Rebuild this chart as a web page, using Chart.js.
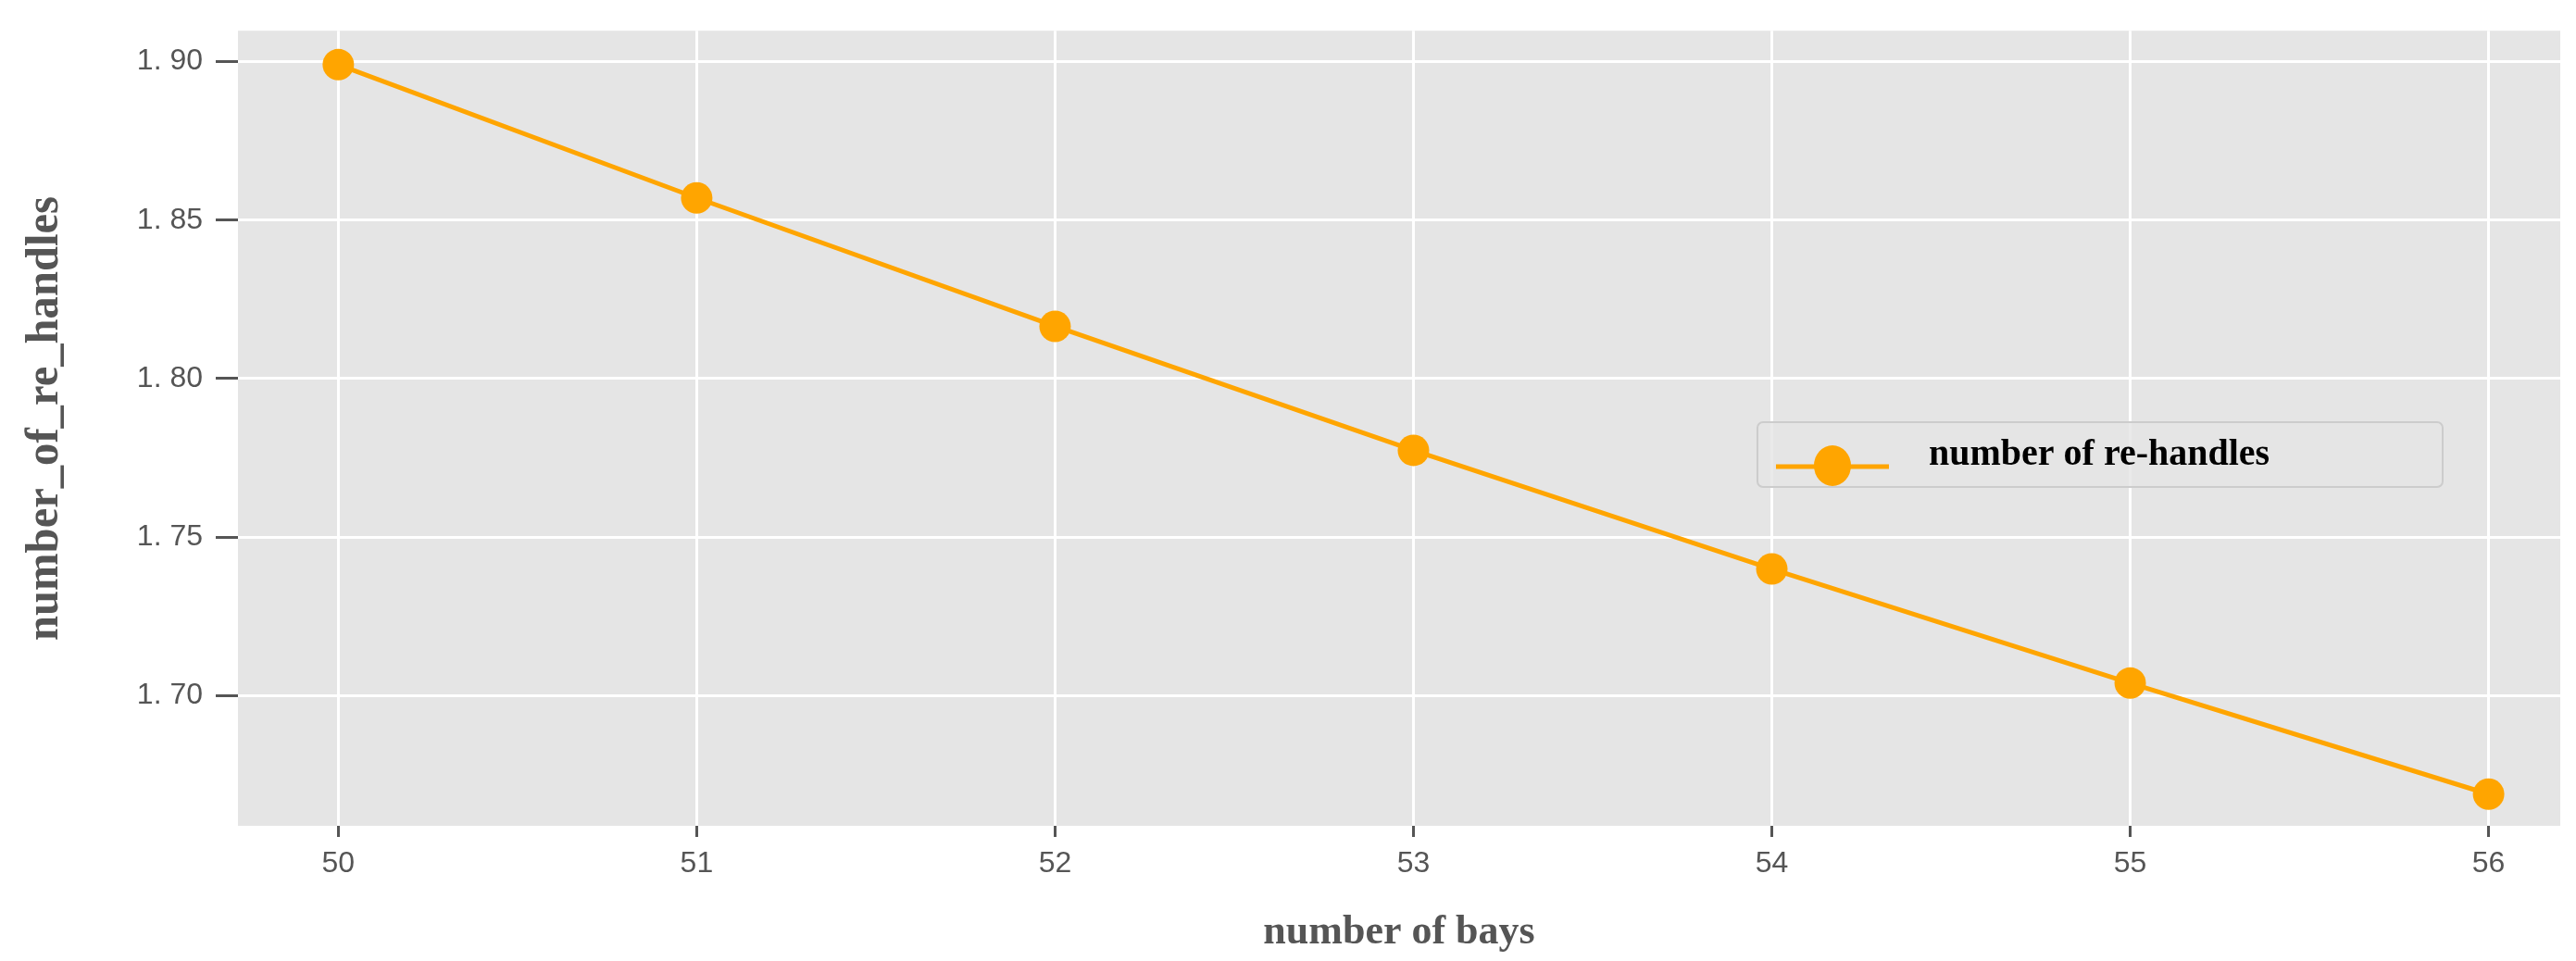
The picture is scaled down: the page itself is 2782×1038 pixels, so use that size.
<!DOCTYPE html>
<html>
<head>
<meta charset="utf-8">
<script src="https://cdn.jsdelivr.net/npm/chart.js@4.4.0/dist/chart.umd.min.js"></script>
<style>
  html, body { margin: 0; padding: 0; background: #fff; }
  #wrap { width: 2782px; height: 1038px; }
</style>
</head>
<body>
<div id="wrap"><canvas id="c"></canvas></div>
<script>
// values
let bays = [50, 51, 52, 53, 54, 55, 56];
let reHandles = [1.899, 1.857, 1.8165, 1.7774, 1.740, 1.704, 1.669];
let xTicks = [50, 51, 52, 53, 54, 55, 56];
let yTicks = [1.70, 1.75, 1.80, 1.85, 1.90];

const ORANGE = '#ffa500';

// grey panel behind the plot
const panelBg = {
    id: 'panelBg',
    beforeDraw(chart) {
        const a = chart.chartArea, ctx = chart.ctx;
        ctx.save();
        ctx.fillStyle = '#e5e5e5';
        ctx.fillRect(a.left, a.top, a.right - a.left, a.bottom - a.top);
        ctx.restore();
    }
};

// condensed y title + legend box
const extras = {
    id: 'extras',
    afterDraw(chart) {
        const ctx = chart.ctx;
        ctx.save();
        // y axis title, squeezed like the original
        ctx.translate(49, 452);
        ctx.rotate(-Math.PI / 2);
        ctx.font = 'bold 50px "Liberation Serif"';
        ctx.fillStyle = '#555555';
        ctx.textAlign = 'center';
        ctx.textBaseline = 'middle';
        const t = 'number_of_re_handles';
        const w = ctx.measureText(t).width;
        ctx.scale(480 / w, 1);
        ctx.fillText(t, 0, 0);
        ctx.restore();

        // legend
        const lx = 1898, ly = 456, lw = 740, lh = 70;
        ctx.save();
        ctx.fillStyle = 'rgba(229,229,229,0.8)';
        ctx.strokeStyle = '#cccccc';
        ctx.lineWidth = 2;
        ctx.beginPath();
        ctx.roundRect(lx, ly, lw, lh, 6);
        ctx.fill();
        ctx.stroke();
        ctx.strokeStyle = ORANGE;
        ctx.lineWidth = 5;
        ctx.beginPath();
        ctx.moveTo(lx + 20, ly + 47);
        ctx.moveTo(lx + 20, ly + 48);
        ctx.lineTo(lx + 142, ly + 48);
        ctx.stroke();
        ctx.fillStyle = ORANGE;
        ctx.beginPath();
        ctx.ellipse(lx + 81, ly + 47, 20, 22, 0, 0, Math.PI * 2);
        ctx.fill();
        ctx.fillStyle = '#000';
        ctx.font = 'bold 40px "Liberation Serif"';
        ctx.textBaseline = 'middle';
        ctx.fillText('number of re-handles', lx + 185, ly + 36);
        ctx.restore();
    }
};

new Chart(document.getElementById('c'), {
    type: 'line',
    data: {
        datasets: [{
            label: 'number of re-handles',
            data: bays.map((b, i) => ({ x: b, y: reHandles[i] })),
            borderColor: ORANGE,
            backgroundColor: ORANGE,
            borderWidth: 5,
            pointRadius: 17,
            pointBorderWidth: 0,
            fill: false
        }]
    },
    options: {
        responsive: true,
        maintainAspectRatio: false,
        animation: false,
        layout: { padding: { top: 18, right: 14, left: 0, bottom: 0 } },
        plugins: { legend: { display: false }, tooltip: { enabled: false } },
        scales: {
            x: {
                type: 'linear',
                min: 49.72,
                max: 56.2,
                afterBuildTicks(s) { s.ticks = xTicks.map(v => ({ value: v })); },
                afterFit(s) { s.height = 146; },
                border: { display: false },
                grid: { color: '#ffffff', lineWidth: 3, tickColor: '#555555', tickLength: 12 },
                ticks: { color: '#555555', font: { family: 'Liberation Sans', size: 32 }, padding: 10 },
                title: {
                    display: true, text: 'number of bays', color: '#555555',
                    font: { family: 'Liberation Serif', size: 44, weight: 'bold' }, padding: { top: 0 }
                }
            },
            y: {
                min: 1.659,
                max: 1.9097,
                afterBuildTicks(s) { s.ticks = yTicks.map(v => ({ value: v })); },
                afterFit(s) { s.width = 257; },
                border: { display: false },
                grid: { color: '#ffffff', lineWidth: 3, tickColor: '#555555', tickLength: 24 },
                ticks: {
                    color: '#555555', font: { family: 'Liberation Sans', size: 32 }, padding: 14,
                    callback: v => v.toFixed(2).replace('.', '. ')
                }
            }
        }
    },
    plugins: [panelBg, extras]
});
</script>
</body>
</html>
